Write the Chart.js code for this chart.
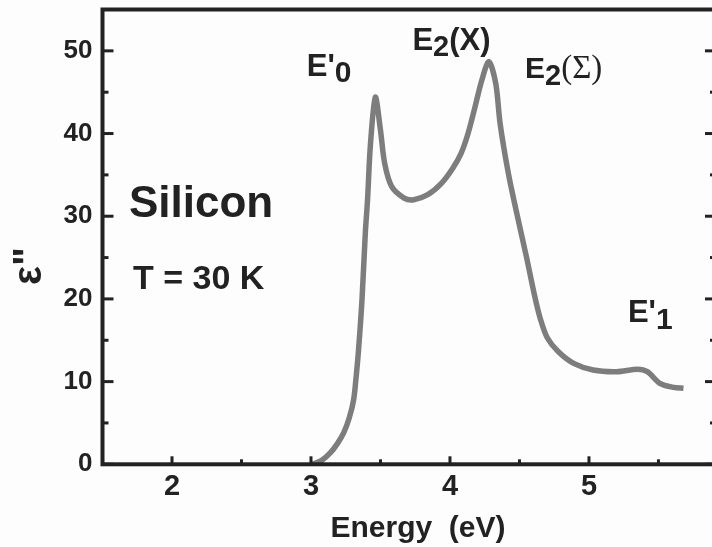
<!DOCTYPE html>
<html>
<head>
<meta charset="utf-8">
<script src="https://cdn.jsdelivr.net/npm/chart.js@4/dist/chart.umd.min.js"></script>
<style>
  html, body { margin: 0; padding: 0; background: #fdfdfd; overflow: hidden; }
  #wrap { width: 720px; height: 547px; }
</style>
</head>
<body>
<div id="wrap"><canvas id="c" width="720" height="547"></canvas></div>
<script>
// 스펙트럼 데이터 (Energy eV, ε'')
const energy = [3.01, 3.08, 3.14, 3.19, 3.235, 3.275, 3.307, 3.325, 3.342, 3.367, 3.391, 3.407, 3.427, 3.463, 3.50, 3.53, 3.58, 3.67, 3.74, 3.84, 3.94, 4.02, 4.08, 4.13, 4.18, 4.23, 4.28, 4.33, 4.36, 4.42, 4.48, 4.55, 4.61, 4.65, 4.70, 4.78, 4.89, 5.03, 5.20, 5.35, 5.42, 5.51, 5.61, 5.68];
const epsilon = [0, 0.5, 1.4, 2.5, 3.8, 5.6, 7.8, 10.6, 13.8, 19.9, 28.0, 32.0, 38.5, 44.4, 40.4, 36.4, 33.6, 32.2, 32.0, 32.6, 34.0, 35.8, 37.6, 40.0, 43.2, 46.5, 48.7, 46, 41.3, 35.2, 30.4, 25.1, 20.3, 17.6, 15.3, 13.6, 12.2, 11.4, 11.2, 11.5, 11.2, 9.8, 9.3, 9.2];

const xTicks = [2, 3, 4, 5];
const yTicks = [0, 10, 20, 30, 40, 50];
const xMinor = [2.5, 3.5, 4.5, 5.5];
const yMinor = [5, 15, 25, 35, 45];

const BOLD = '"Liberation Sans", Arial, sans-serif';
const INK = '#222';

// 피크 라벨 (데이터 좌표)
const labels = [
  { x: 2.97, y: 47.0, parts: [{ t: "E'", f: 'bold 31px ' + BOLD }, { t: '0', f: 'bold 30px ' + BOLD, dy: 6 }] },
  { x: 3.73, y: 50.1, parts: [{ t: 'E', f: 'bold 31px ' + BOLD }, { t: '2', f: 'bold 29px ' + BOLD, dy: 6 }, { t: '(X)', f: 'bold 31px ' + BOLD }] },
  { x: 4.54, y: 46.7, parts: [{ t: 'E', f: 'bold 30px ' + BOLD }, { t: '2', f: 'bold 29px ' + BOLD, dy: 7 }, { t: '(Σ)', f: '33px "Liberation Serif", serif' }] },
  { x: 5.28, y: 17.2, parts: [{ t: "E'", f: 'bold 31px ' + BOLD }, { t: '1', f: 'bold 30px ' + BOLD, dy: 7 }] },
  { x: 1.69, y: 29.9, parts: [{ t: 'Silicon', f: 'bold 44px ' + BOLD }] },
  { x: 1.72, y: 21.2, parts: [{ t: 'T = 30 K', f: 'bold 34px ' + BOLD }] },
];

const framePlugin = {
  id: 'frame',
  afterDraw(chart) {
    const { ctx, chartArea: a, scales: { x, y } } = chart;
    ctx.save();
    ctx.strokeStyle = INK;
    ctx.lineCap = 'butt';
    // 안쪽 눈금
    ctx.lineWidth = 3;
    xTicks.forEach((v) => { const px = x.getPixelForValue(v); ctx.beginPath(); ctx.moveTo(px, a.bottom); ctx.lineTo(px, a.bottom - 8); ctx.stroke(); });
    xMinor.forEach((v) => { const px = x.getPixelForValue(v); ctx.beginPath(); ctx.moveTo(px, a.bottom); ctx.lineTo(px, a.bottom - 5); ctx.stroke(); });
    yTicks.forEach((v) => {
      const py = y.getPixelForValue(v);
      ctx.beginPath(); ctx.moveTo(a.left, py); ctx.lineTo(a.left + 11, py); ctx.stroke();
      ctx.beginPath(); ctx.moveTo(a.right, py); ctx.lineTo(a.right - 11, py); ctx.stroke();
    });
    yMinor.forEach((v) => {
      const py = y.getPixelForValue(v);
      ctx.beginPath(); ctx.moveTo(a.left, py); ctx.lineTo(a.left + 6, py); ctx.stroke();
      ctx.beginPath(); ctx.moveTo(a.right, py); ctx.lineTo(a.right - 6, py); ctx.stroke();
    });
    // 테두리
    ctx.lineWidth = 4;
    ctx.strokeRect(a.left, a.top, a.right - a.left, a.bottom - a.top);

    // 라벨
    ctx.fillStyle = INK;
    ctx.textBaseline = 'alphabetic';
    ctx.textAlign = 'left';
    labels.forEach((l) => {
      let px = x.getPixelForValue(l.x);
      const py = y.getPixelForValue(l.y);
      l.parts.forEach((p) => {
        ctx.font = p.f;
        ctx.fillText(p.t, px, py + (p.dy || 0));
        px += ctx.measureText(p.t).width;
      });
    });

    // 축 제목
    ctx.font = 'bold 30px ' + BOLD;
    ctx.textAlign = 'center';
    ctx.fillText('Energy  (eV)', 418, 537);

    ctx.save();
    ctx.translate(30, 266);
    ctx.rotate(-Math.PI / 2);
    ctx.font = 'bold 40px ' + BOLD;
    ctx.textBaseline = 'middle';
    ctx.fillText('ε"', 0, 0);
    ctx.restore();
    ctx.restore();
  },
};

new Chart(document.getElementById('c'), {
  type: 'line',
  data: {
    datasets: [{
      data: energy.map((e, i) => ({ x: e, y: epsilon[i] })),
      borderColor: '#7d7d7d',
      borderWidth: 5.5,
      pointRadius: 0,
      tension: 0.3,
      fill: false,
    }],
  },
  options: {
    responsive: false,
    animation: false,
    layout: { padding: { left: 0, right: 4, top: 9.5, bottom: 0 } },
    plugins: { legend: { display: false }, tooltip: { enabled: false } },
    scales: {
      x: {
        type: 'linear', min: 1.5, max: 5.914,
        afterBuildTicks: (s) => { s.ticks = xTicks.map((v) => ({ value: v })); },
        afterFit: (s) => { s.height = 82.7; s.paddingLeft = 0; s.paddingRight = 0; },
        grid: { display: false, drawTicks: false },
        border: { display: false },
        ticks: { color: INK, padding: 5, font: { family: BOLD, size: 29, weight: 'bold' } },
      },
      y: {
        min: 0, max: 55,
        afterBuildTicks: (s) => { s.ticks = yTicks.map((v) => ({ value: v })); },
        afterFit: (s) => { s.width = 102.5; s.paddingTop = 0; s.paddingBottom = 0; },
        grid: { display: false, drawTicks: false },
        border: { display: false },
        ticks: { color: INK, padding: 10, font: { family: BOLD, size: 26, weight: 'bold' } },
      },
    },
  },
  plugins: [framePlugin],
});
</script>
</body>
</html>
